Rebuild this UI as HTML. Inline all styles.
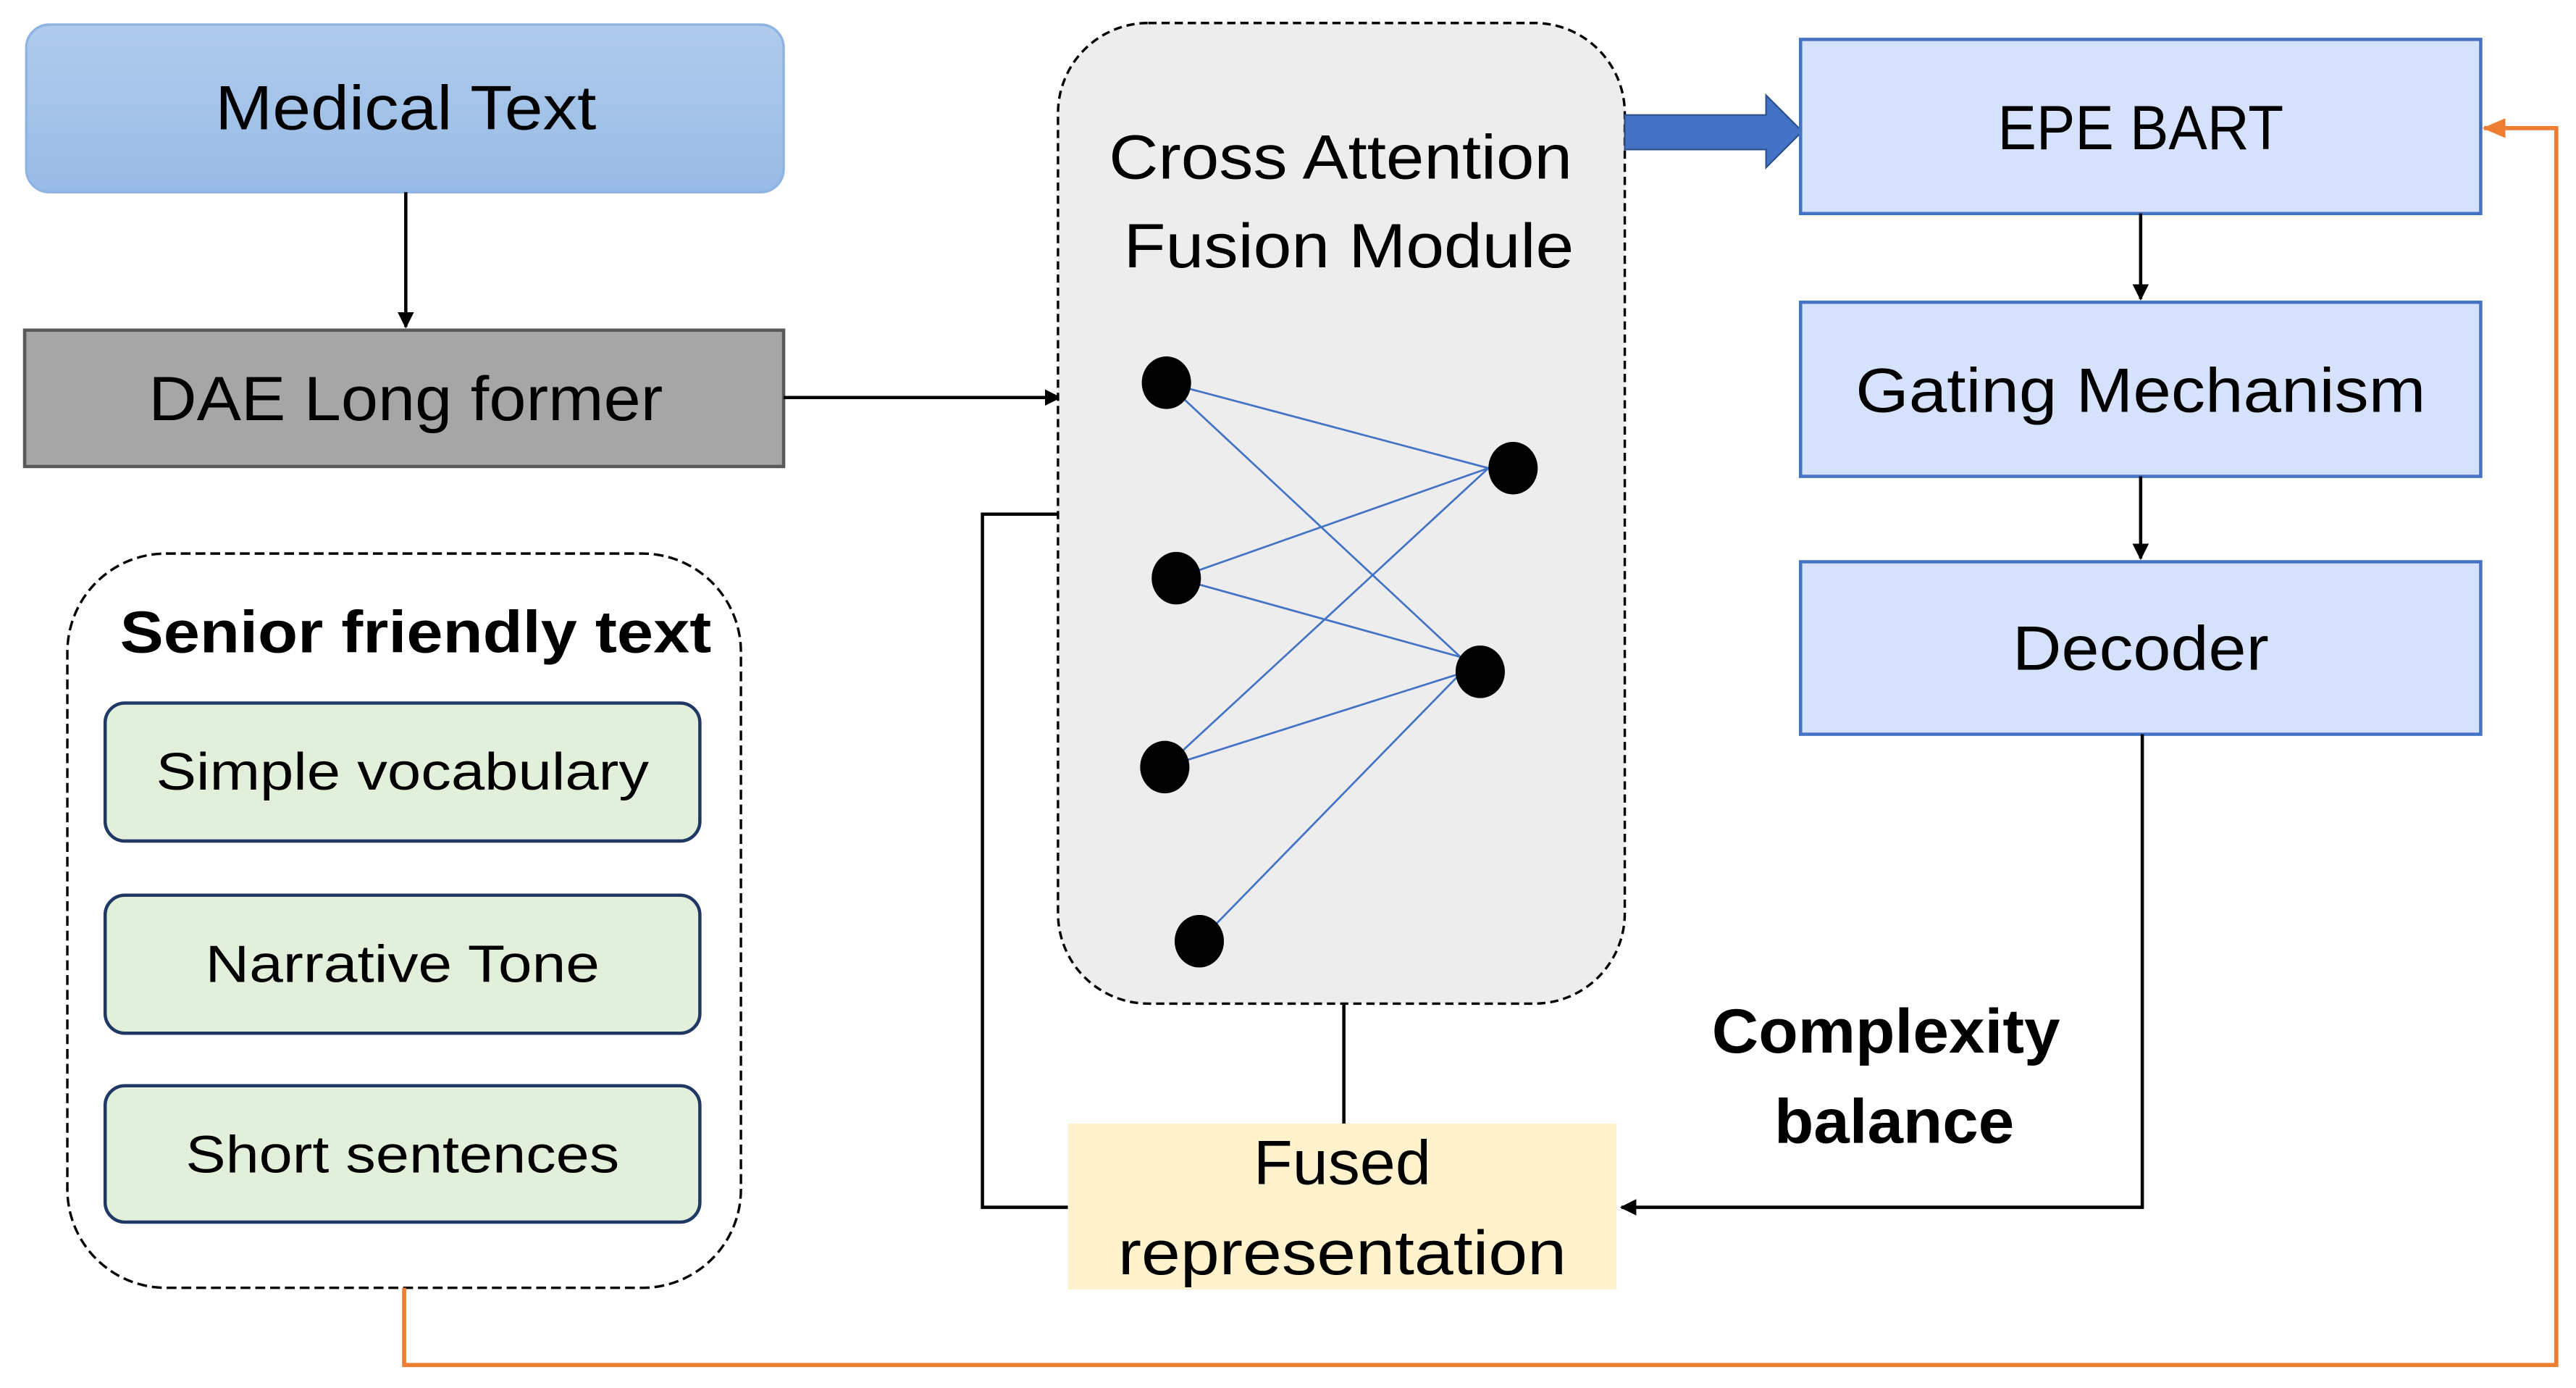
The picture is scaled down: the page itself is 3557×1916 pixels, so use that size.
<!DOCTYPE html>
<html><head><meta charset="utf-8"><style>html,body{margin:0;padding:0;background:#fff}svg{display:block}</style></head>
<body>
<svg width="3557" height="1916" viewBox="0 0 1568 845" preserveAspectRatio="none" xmlns="http://www.w3.org/2000/svg" font-family="'Liberation Sans', sans-serif">
<defs>
<linearGradient id="g1" x1="0" y1="0" x2="0" y2="1"><stop offset="0" stop-color="#b0cbec"/><stop offset="1" stop-color="#98bbe6"/></linearGradient>
<marker id="ah" markerWidth="10" markerHeight="10" refX="9" refY="5" orient="auto" markerUnits="userSpaceOnUse"><path d="M0,0 L10,5 L0,10 z" fill="#000"/></marker>
<marker id="ao" markerWidth="14" markerHeight="12" refX="13" refY="6" orient="auto" markerUnits="userSpaceOnUse"><path d="M0,0 L14,6 L0,12 z" fill="#ed7d31"/></marker>
</defs>
<g dominant-baseline="central" text-anchor="middle" font-size="38">
<rect x="16" y="15" width="461" height="102" rx="14" fill="url(#g1)" stroke="#8fb4e3" stroke-width="1.5"/>
<text x="247" y="66" textLength="232" lengthAdjust="spacingAndGlyphs">Medical Text</text>
<line x1="247" y1="117" x2="247" y2="199" stroke="#000" stroke-width="2" marker-end="url(#ah)"/>
<rect x="15" y="201" width="462" height="83" fill="#a6a6a6" stroke="#595959" stroke-width="2"/>
<text x="247" y="243" textLength="313" lengthAdjust="spacingAndGlyphs">DAE Long former</text>
<line x1="477" y1="242" x2="645" y2="242" stroke="#000" stroke-width="2" marker-end="url(#ah)"/>
<rect x="644" y="14" width="345" height="597" rx="55" fill="#ededed" stroke="#000" stroke-width="1.5" stroke-dasharray="5,3"/>
<text x="816" y="96" textLength="282" lengthAdjust="spacingAndGlyphs">Cross Attention</text>
<text x="821" y="150" textLength="274" lengthAdjust="spacingAndGlyphs">Fusion Module</text>
<g stroke="#4472c4" stroke-width="1.2">
<line x1="710" y1="233" x2="906" y2="285"/><line x1="710" y1="233" x2="889" y2="400"/>
<line x1="716" y1="352" x2="906" y2="285"/><line x1="716" y1="352" x2="889" y2="400"/>
<line x1="709" y1="467" x2="906" y2="285"/><line x1="709" y1="467" x2="889" y2="410"/>
<line x1="730" y1="573" x2="889" y2="410"/>
</g>
<g fill="#000">
<ellipse cx="710" cy="233" rx="15" ry="16"/><ellipse cx="921" cy="285" rx="15" ry="16"/>
<ellipse cx="716" cy="352" rx="15" ry="16"/><ellipse cx="901" cy="409" rx="15" ry="16"/>
<ellipse cx="709" cy="467" rx="15" ry="16"/><ellipse cx="730" cy="573" rx="15" ry="16"/>
</g>
<path d="M989,70 L1075,70 L1075,58 L1097,80 L1075,102 L1075,91 L989,91 z" fill="#4472c4" stroke="#2f528f" stroke-width="1"/>
<rect x="1096" y="24" width="414" height="106" fill="#d6e2fb" stroke="#4472c4" stroke-width="2"/>
<text x="1303" y="78" textLength="174" lengthAdjust="spacingAndGlyphs">EPE BART</text>
<rect x="1096" y="184" width="414" height="106" fill="#d6e2fb" stroke="#4472c4" stroke-width="2"/>
<text x="1303" y="238" textLength="347" lengthAdjust="spacingAndGlyphs">Gating Mechanism</text>
<rect x="1096" y="342" width="414" height="105" fill="#d6e2fb" stroke="#4472c4" stroke-width="2"/>
<text x="1303" y="395" textLength="156" lengthAdjust="spacingAndGlyphs">Decoder</text>
<line x1="1303" y1="130" x2="1303" y2="182" stroke="#000" stroke-width="2" marker-end="url(#ah)"/>
<line x1="1303" y1="290" x2="1303" y2="340" stroke="#000" stroke-width="2" marker-end="url(#ah)"/>
<polyline points="1304,447 1304,735 987,735" fill="none" stroke="#000" stroke-width="2" marker-end="url(#ah)"/>
<line x1="818" y1="611" x2="818" y2="684" stroke="#000" stroke-width="2"/>
<polyline points="650,735 598,735 598,313 644,313" fill="none" stroke="#000" stroke-width="2"/>
<rect x="650" y="684" width="334" height="101" fill="#fff2cc"/>
<text x="817" y="708" textLength="108" lengthAdjust="spacingAndGlyphs">Fused</text>
<text x="817" y="763" textLength="273" lengthAdjust="spacingAndGlyphs">representation</text>
<text x="1148" y="628" font-weight="bold" textLength="212" lengthAdjust="spacingAndGlyphs">Complexity</text>
<text x="1153" y="683" font-weight="bold" textLength="146" lengthAdjust="spacingAndGlyphs">balance</text>
<rect x="41" y="337" width="410" height="447" rx="60" fill="none" stroke="#000" stroke-width="1.5" stroke-dasharray="6,3"/>
<text x="253" y="385" font-size="36" font-weight="bold" textLength="360" lengthAdjust="spacingAndGlyphs">Senior friendly text</text>
<g fill="#e2efda" stroke="#203864" stroke-width="2">
<rect x="64" y="428" width="362" height="84" rx="12"/>
<rect x="64" y="545" width="362" height="84" rx="12"/>
<rect x="64" y="661" width="362" height="83" rx="12"/>
</g>
<g font-size="32">
<text x="245" y="470" textLength="300" lengthAdjust="spacingAndGlyphs">Simple vocabulary</text>
<text x="245" y="587" textLength="240" lengthAdjust="spacingAndGlyphs">Narrative Tone</text>
<text x="245" y="703" textLength="264" lengthAdjust="spacingAndGlyphs">Short sentences</text>
</g>
<polyline points="246,784 246,831 1556,831 1556,78 1512,78" fill="none" stroke="#ed7d31" stroke-width="2.5" marker-end="url(#ao)"/>
</g>
</svg>
</body></html>
